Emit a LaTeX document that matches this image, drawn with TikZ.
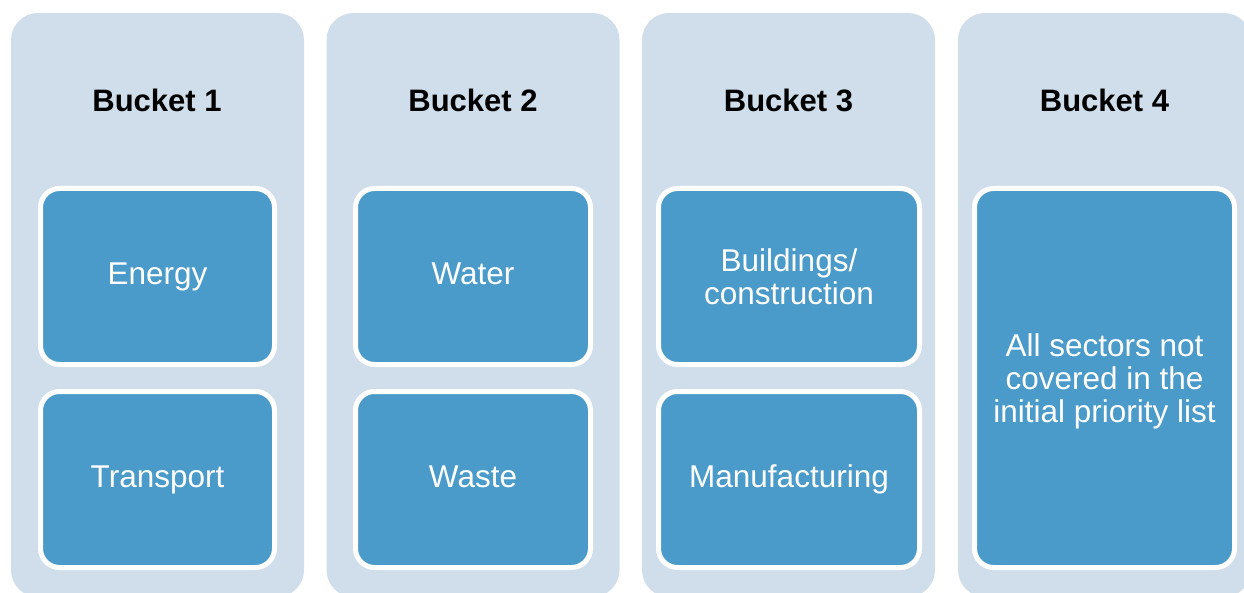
\documentclass[tikz,border=0pt]{standalone}
\usepackage{fontspec}
\setmainfont{Liberation Sans}
\definecolor{outerblue}{HTML}{CFDEEA}
\definecolor{innerblue}{HTML}{4A9BC9}
\begin{document}
\begin{tikzpicture}[x=1pt,y=-1pt,
  bucketbox/.style={rectangle, fill=outerblue, rounded corners=27pt, minimum width=293pt, minimum height=584pt, inner sep=0pt},
  sectorbox/.style={rectangle, fill=innerblue, draw=white, line width=5pt, rounded corners=19pt, inner sep=0pt, text=white, align=center, font=\fontsize{31.5}{33}\selectfont},
  oneline/.style={text height=22pt, text depth=6pt},
  titletext/.style={font=\fontsize{31}{33}\selectfont\bfseries, text=black, inner sep=0pt}]
\useasboundingbox (0,0) rectangle (1244,593);
\clip (0,0) rectangle (1244,593);
% buckets
\node[bucketbox] (b1) at (157.5,305) {};
\node[bucketbox] (b2) at (473,305) {};
\node[bucketbox] (b3) at (788.5,305) {};
\node[bucketbox] (b4) at (1104.5,305) {};
% titles
\node[titletext] (t1) at (157,100) {Bucket 1};
\node[titletext] (t2) at (473,100) {Bucket 2};
\node[titletext] (t3) at (788.5,100) {Bucket 3};
\node[titletext] (t4) at (1104.5,100) {Bucket 4};
% sectors
\node[sectorbox, oneline, minimum width=234pt, minimum height=176pt] (energy) at (157.5,276.5) {Energy};
\node[sectorbox, oneline, minimum width=234pt, minimum height=176pt] (transport) at (157.5,479.5) {Transport};
\node[sectorbox, oneline, minimum width=235pt, minimum height=176pt] (water) at (473,276.5) {Water};
\node[sectorbox, oneline, minimum width=235pt, minimum height=176pt] (waste) at (473,479.5) {Waste};
\node[sectorbox, minimum width=261pt, minimum height=176pt] (buildings) at (789,276.5) {Buildings/\\construction};
\node[sectorbox, oneline, minimum width=261pt, minimum height=176pt] (manufacturing) at (789,479.5) {Manufacturing};
\node[sectorbox, text depth=0pt, minimum width=260pt, minimum height=379pt] (allsectors) at (1104.5,378) {All sectors not\\covered in the\\initial priority list};
\end{tikzpicture}
\end{document}
